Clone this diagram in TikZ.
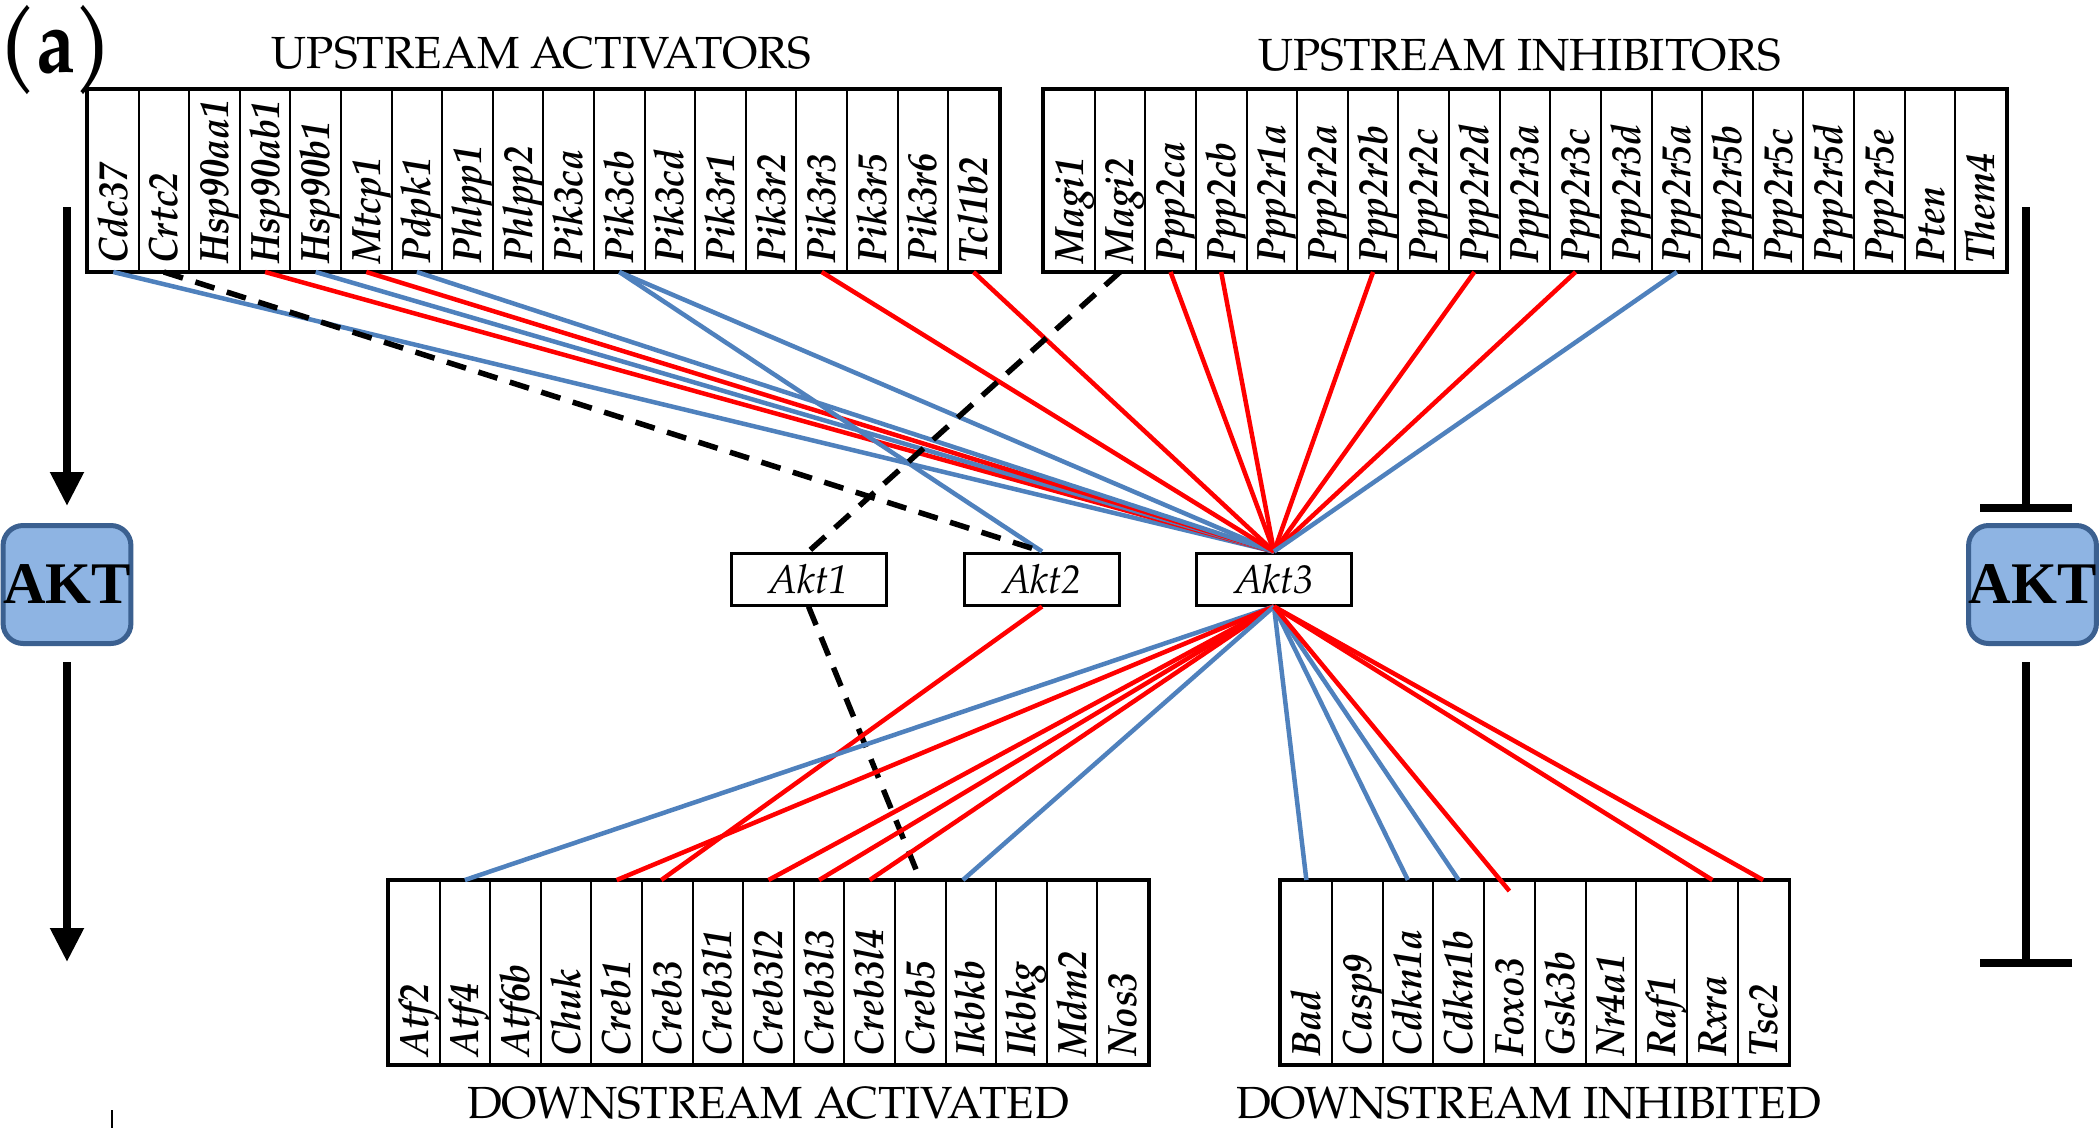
\documentclass[tikz,border=0pt]{standalone}
\usepackage{graphicx}
\usepackage{fontspec}
\setmainfont{texgyrepagella}[Extension=.otf, UprightFont=*-regular, BoldFont=*-bold, ItalicFont=*-italic, BoldItalicFont=*-bolditalic]
\newfontfamily\timesf{Liberation Serif}
\usetikzlibrary{arrows.meta}
\definecolor{lblue}{HTML}{4F81BD}
\definecolor{lred}{HTML}{FF0000}
\definecolor{aktfill}{HTML}{8EB4E3}
\definecolor{aktdraw}{HTML}{3B6090}
\tikzset{
 cell/.style={draw=black, line width=2pt, minimum width=50.6pt, minimum height=181pt, inner sep=0pt, anchor=north west},
 frame/.style={draw=black, line width=3.5pt},
 lab/.style={rotate=90, anchor=base west, inner sep=0pt, font=\fontsize{41}{41}\selectfont\bfseries\itshape},
 aktsmall/.style={draw=black, line width=3pt, minimum width=155pt, minimum height=52pt, inner sep=0pt, font=\fontsize{40}{40}\selectfont\itshape},
 head/.style={anchor=base, inner sep=0pt, font=\fontsize{45}{45}\selectfont},
 bl/.style={draw=lblue, line width=4.5pt},
 rd/.style={draw=lred, line width=4.5pt},
 dsh/.style={draw=black, line width=5.5pt, dash pattern=on 20pt off 13pt},
 aktbig/.style={draw=aktdraw, fill=aktfill, line width=5pt, rounded corners=20pt, minimum height=118pt, inner sep=0pt, font=\timesf\fontsize{59}{59}\selectfont\bfseries},
 thick arrow/.style={line width=8pt, -{Triangle[width=32pt,length=34pt]}},
 thick bar/.style={line width=8pt, -{Bar[width=92pt]}}
}
\newcommand{\glab}[1]{\scalebox{0.91}[1]{#1}}
\begin{document}
\begin{tikzpicture}[x=1pt,y=-1pt]
\useasboundingbox (0,0) rectangle (2100,1128);
\fill[white] (0,0) rectangle (2100,1128);

% panel letter and headings
\node[anchor=base west, inner sep=0pt, font=\fontsize{90}{90}\selectfont\bfseries] (panel) at (-2,72) {\scalebox{0.86}[1]{(a)}};
\node[head] (hua) at (541.5,68) {UPSTREAM ACTIVATORS};
\node[head] (hui) at (1519.6,70) {UPSTREAM INHIBITORS};
\node[head] (hda) at (768,1118) {DOWNSTREAM ACTIVATED};
\node[head] (hdi) at (1528.5,1118) {DOWNSTREAM INHIBITED};

% upstream activators
\foreach \n [count=\i] in {Cdc37,Crtc2,Hsp90aa1,Hsp90ab1,Hsp90b1,Mtcp1,Pdpk1,Phlpp1,Phlpp2,Pik3ca,Pik3cb,Pik3cd,Pik3r1,Pik3r2,Pik3r3,Pik3r5,Pik3r6,Tcl1b2} {
  \node[cell] (a\i) at ({87+(\i-1)*50.6},89) {};
  \node[lab] (ta\i) at ([xshift=14pt,yshift=8pt]a\i.south) {\glab{\n}};
}
\draw[frame] (a1.north west) rectangle (a18.south east);

% upstream inhibitors
\foreach \n [count=\i] in {Magi1,Magi2,Ppp2ca,Ppp2cb,Ppp2r1a,Ppp2r2a,Ppp2r2b,Ppp2r2c,Ppp2r2d,Ppp2r3a,Ppp2r3c,Ppp2r3d,Ppp2r5a,Ppp2r5b,Ppp2r5c,Ppp2r5d,Ppp2r5e,Pten,Them4} {
  \node[cell] (i\i) at ({1043+(\i-1)*50.63},89) {};
  \node[lab] (ti\i) at ([xshift=14pt,yshift=8pt]i\i.south) {\glab{\n}};
}
\draw[frame] (i1.north west) rectangle (i19.south east);

% downstream activated
\foreach \n [count=\i] in {Atf2,Atf4,Atf6b,Chuk,Creb1,Creb3,Creb3l1,Creb3l2,Creb3l3,Creb3l4,Creb5,Ikbkb,Ikbkg,Mdm2,Nos3} {
  \node[cell, minimum height=183pt] (d\i) at ({388+(\i-1)*50.6},880) {};
  \node[lab] (td\i) at ([xshift=14pt,yshift=8pt]d\i.south) {\glab{\n}};
}
\draw[frame] (d1.north west) rectangle (d15.south east);

% downstream inhibited
\foreach \n [count=\i] in {Bad,Casp9,Cdkn1a,Cdkn1b,Foxo3,Gsk3b,Nr4a1,Raf1,Rxra,Tsc2} {
  \node[cell, minimum height=183pt, minimum width=50.75pt] (e\i) at ({1280+(\i-1)*50.75},880) {};
  \node[lab] (te\i) at ([xshift=14pt,yshift=8pt]e\i.south) {\glab{\n}};
}
\draw[frame] (e1.north west) rectangle (e10.south east);

% Akt isoforms
\node[aktsmall] (akt1) at (808.5,579) {Akt1};
\node[aktsmall] (akt2) at (1042,579) {Akt2};
\node[aktsmall] (akt3) at (1274,579) {Akt3};

% upstream activators -> Akt
\foreach \k/\c in {1/bl,4/rd,5/bl,6/rd,7/bl,11/bl,15/rd,18/rd}
  \draw[\c] (a\k.south) -- (akt3.north);
\draw[bl] (a11.south) -- (akt2.north);
\draw[dsh] (a2.south) -- (akt2.north);

% upstream inhibitors -> Akt
\foreach \k/\c in {3/rd,4/rd,7/rd,9/rd,11/rd,13/bl}
  \draw[\c] (i\k.south) -- (akt3.north);
\draw[dsh] (i2.south) -- (akt1.north);

% Akt -> downstream activated
\draw[dsh] (akt1.south) -- (d11.north);
\draw[rd] (akt2.south) -- ([xshift=-6pt]d6.north);
\foreach \k/\c in {2/bl,5/rd,8/rd,9/rd,10/rd}
  \draw[\c] (akt3.south) -- (d\k.north);
\draw[bl] (akt3.south) -- ([xshift=-8pt]d12.north);

% Akt -> downstream inhibited
\foreach \k/\c in {1/bl,3/bl,4/bl,9/rd,10/rd}
  \draw[\c] (akt3.south) -- (e\k.north);
\draw[rd] (akt3.south) -- ([yshift=-11pt]e5.north);

% AKT summary boxes with arrows
\node[aktbig, minimum width=123pt] (aktL) at (67,584.5) {AKT};
\node[aktbig, minimum width=126pt] (aktR) at (2032.5,584.5) {AKT};
\coordinate (lt) at (67,207);
\coordinate (lb) at (67,962);
\coordinate (rt) at (2026,207);
\coordinate (rb) at (2026,967);
\draw[thick arrow] (lt) -- ([yshift=17pt]aktL.north -| lt);
\draw[thick arrow] ([yshift=-16pt]aktL.south -| lt) -- (lb);
\draw[thick bar] (rt) -- ([yshift=11pt]aktR.north -| rt);
\draw[thick bar] ([yshift=-16pt]aktR.south -| rt) -- (rb);

% small stray mark
\coordinate (m1) at (112,1110);
\coordinate (m2) at (112,1128);
\draw[line width=1.5pt] (m1) -- (m2);
\end{tikzpicture}
\end{document}
